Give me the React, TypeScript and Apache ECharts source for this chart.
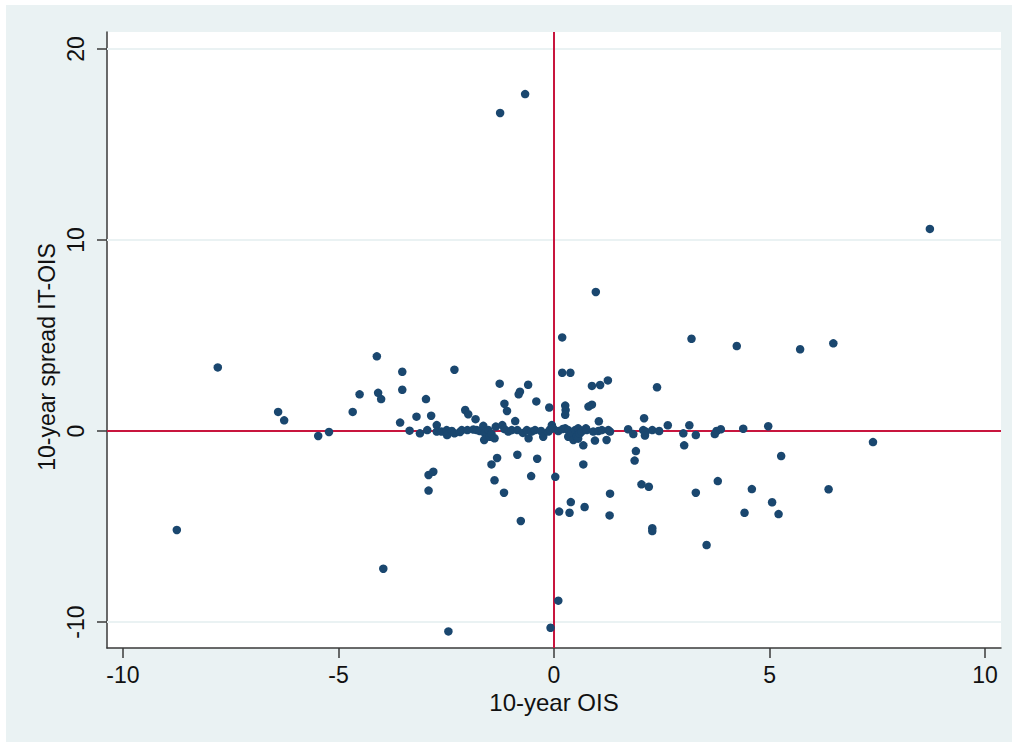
import React, { useEffect, useRef } from "react";
import * as echarts from "echarts";

// 10-year OIS change (x) and 10-year spread IT-OIS change (y), paired by index
const oisValues = [
  -1.25, -0.67, 8.72, 0.97, 0.19, 3.19, 4.24, 5.71, 6.48, -4.11,
  -7.8, -2.31, -3.52, 0.19, 0.38, 1.25, -1.26, -0.6, 1.07, 0.88,
  2.39, -3.52, -0.79, -4.08, -0.82, -4.51, -2.97, -4.01, -0.41, -1.15,
  0.88, 0.26, 0.8, -0.11, 0.27, -2.06, -1.09, -4.67, -6.4, -1.99,
  -2.85, 0.26, -3.19, 2.09, -1.82, -6.26, -0.9, 1.04, -3.57, -5.47,
  -5.22, -3.35, -3.11, -2.94, -2.72, -2.72, -2.61, -2.49, -2.48, -2.37,
  -2.31, -2.18, -2.14, -2.01, -1.87, -1.79, -1.72, -1.64, -1.6, -1.62,
  -1.52, -1.49, -1.45, -1.38, -1.35, -1.2, -1.15, -1.06, -0.98, -0.85,
  -0.72, -0.63, -0.59, -0.52, -0.44, -0.3, -0.25, -0.13, -0.09, -0.05,
  -0.02, 0.1, 0.2, 0.26, 0.33, 0.33, 0.41, 0.45, 0.49, 0.53,
  0.56, 0.56, 0.6, 0.64, 0.74, 0.76, 0.91, 0.95, 1.03, 1.11,
  1.22, 1.26, 1.3, 0.68, 1.72, 1.84, 2.07, 2.13, 2.11, 2.28,
  2.44, 2.64, 3.0, 3.02, 3.14, 3.29, 3.73, 3.77, 3.87, 4.39,
  4.97, 7.4, -1.32, -1.45, -0.85, -0.39, -0.53, -1.38, -2.91, -2.8,
  0.03, -2.91, -1.16, 0.39, 0.12, 0.36, -0.77, -3.96, 0.1, -0.08,
  -2.45, -8.75, 0.68, 1.87, 1.9, 5.27, 2.03, 2.2, 1.3, 3.8,
  4.59, 6.37, 3.29, 0.71, 1.29, 2.28, 2.28, 3.54, 4.42, 5.06,
  5.21,
];
const spreadValues = [
  16.65, 17.64, 10.58, 7.28, 4.9, 4.83, 4.45, 4.28, 4.59, 3.91,
  3.33, 3.21, 3.1, 3.05, 3.05, 2.65, 2.48, 2.42, 2.41, 2.36,
  2.29, 2.16, 2.06, 2.0, 1.92, 1.92, 1.67, 1.67, 1.55, 1.43,
  1.38, 1.33, 1.28, 1.23, 1.1, 1.1, 1.05, 1.0, 1.0, 0.88,
  0.8, 0.85, 0.75, 0.67, 0.62, 0.56, 0.52, 0.51, 0.44, -0.26,
  -0.05, 0.02, -0.12, 0.05, 0.31, -0.03, -0.03, 0.05, -0.21, 0.0,
  -0.12, -0.05, 0.05, 0.05, 0.08, 0.05, 0.0, 0.27, -0.12, -0.47,
  0.05, -0.3, -0.15, -0.38, 0.23, 0.31, 0.1, -0.03, 0.05, 0.05,
  -0.1, 0.05, -0.38, -0.03, 0.05, 0.0, -0.3, -0.03, 0.08, 0.31,
  0.14, 0.0, 0.1, 0.14, 0.05, -0.3, -0.12, -0.47, 0.05, -0.3,
  0.14, -0.4, -0.12, -0.03, 0.14, 0.05, -0.03, -0.5, 0.0, 0.05,
  -0.47, 0.05, -0.03, -0.75, 0.09, -0.16, 0.05, -0.03, -0.24, 0.05,
  0.0, 0.3, -0.12, -0.75, 0.3, -0.21, -0.16, 0.0, 0.09, 0.12,
  0.25, -0.58, -1.41, -1.75, -1.24, -1.45, -2.36, -2.58, -2.3, -2.13,
  -2.4, -3.12, -3.23, -3.72, -4.22, -4.28, -4.71, -7.21, -8.88, -10.3,
  -10.49, -5.18, -1.75, -1.55, -1.05, -1.31, -2.79, -2.92, -3.28, -2.62,
  -3.04, -3.05, -3.23, -3.98, -4.42, -5.09, -5.24, -5.97, -4.28, -3.73,
  -4.35,
];

const xTickValues = [-10, -5, 0, 5, 10];
const yTickValues = [-10, 0, 10, 20];
const gridLineValues = [-10, 10, 20];
const referenceX = [0];
const referenceY = [0];
const xAxisTitle = "10-year OIS";
const yAxisTitle = "10-year spread IT-OIS";

const FONT = "'Liberation Sans', Arial, sans-serif";
const NAVY = "#1A476F";
const RED = "#C8153E";
const LIGHT = "#EAF2F3";
const AXIS = "#3a3a3a";

export default function App() {
  const ref = useRef<HTMLDivElement>(null);

  useEffect(() => {
    if (!ref.current) return;
    const chart = echarts.init(ref.current, null, { renderer: "svg" });
    const points = oisValues.map((x, i) => [x, spreadValues[i]]);

    chart.setOption({
      animation: false,
      backgroundColor: LIGHT,
      grid: {
        left: 101,
        top: 27,
        right: 11,
        bottom: 94,
        show: true,
        backgroundColor: "#ffffff",
        borderWidth: 0,
      },
      graphic: [
        {
          type: "text",
          x: 41,
          y: 352,
          rotation: Math.PI / 2,
          style: {
            text: yAxisTitle,
            fontFamily: FONT,
            fontSize: 23,
            fill: "#111",
            align: "center",
            verticalAlign: "middle",
          },
        },
      ],
      xAxis: {
        type: "value",
        min: -10.37,
        max: 10.37,
        name: xAxisTitle,
        nameLocation: "middle",
        nameGap: 41,
        nameTextStyle: { fontFamily: FONT, fontSize: 24, color: "#111" },
        axisLine: { show: true, onZero: false, lineStyle: { color: AXIS, width: 1.5 } },
        axisTick: {
          show: true,
          length: 10,
          customValues: xTickValues,
          lineStyle: { color: AXIS, width: 1.5 },
        },
        axisLabel: {
          customValues: xTickValues,
          margin: 15,
          fontFamily: FONT,
          fontSize: 23,
          color: "#111",
        },
        splitLine: { show: false },
      },
      yAxis: {
        type: "value",
        min: -11.36,
        max: 20.89,
        axisLine: { show: true, onZero: false, lineStyle: { color: AXIS, width: 1.5 } },
        axisTick: {
          show: true,
          length: 10,
          customValues: yTickValues,
          lineStyle: { color: AXIS, width: 1.5 },
        },
        axisLabel: {
          customValues: yTickValues,
          rotate: 90,
          margin: 20,
          fontFamily: FONT,
          fontSize: 23,
          color: "#111",
        },
        splitLine: { show: false },
      },
      series: [
        {
          type: "line",
          data: [],
          z: 1,
          silent: true,
          markLine: {
            silent: true,
            symbol: "none",
            label: { show: false },
            animation: false,
            data: gridLineValues.map((v) => ({
              yAxis: v,
              lineStyle: { color: LIGHT, width: 2, type: "solid" },
            })),
          },
        },
        {
          type: "line",
          data: [],
          z: 2,
          silent: true,
          markLine: {
            silent: true,
            symbol: "none",
            label: { show: false },
            animation: false,
            data: [
              ...referenceY.map((v) => ({
                yAxis: v,
                lineStyle: { color: RED, width: 2, type: "solid" },
              })),
              ...referenceX.map((v) => ({
                xAxis: v,
                lineStyle: { color: RED, width: 2, type: "solid" },
              })),
            ],
          },
        },
        {
          type: "scatter",
          z: 5,
          data: points,
          symbol: "circle",
          symbolSize: 8.5,
          itemStyle: { color: NAVY, opacity: 1 },
        },
      ],
    });

    return () => chart.dispose();
  }, []);

  return (
    <div
      style={{
        position: "absolute",
        left: 0,
        top: 0,
        width: 1017,
        height: 747,
        background: "#ffffff",
      }}
    >
      <div
        ref={ref}
        style={{ position: "absolute", left: 6, top: 5, width: 1006, height: 737 }}
      />
    </div>
  );
}
